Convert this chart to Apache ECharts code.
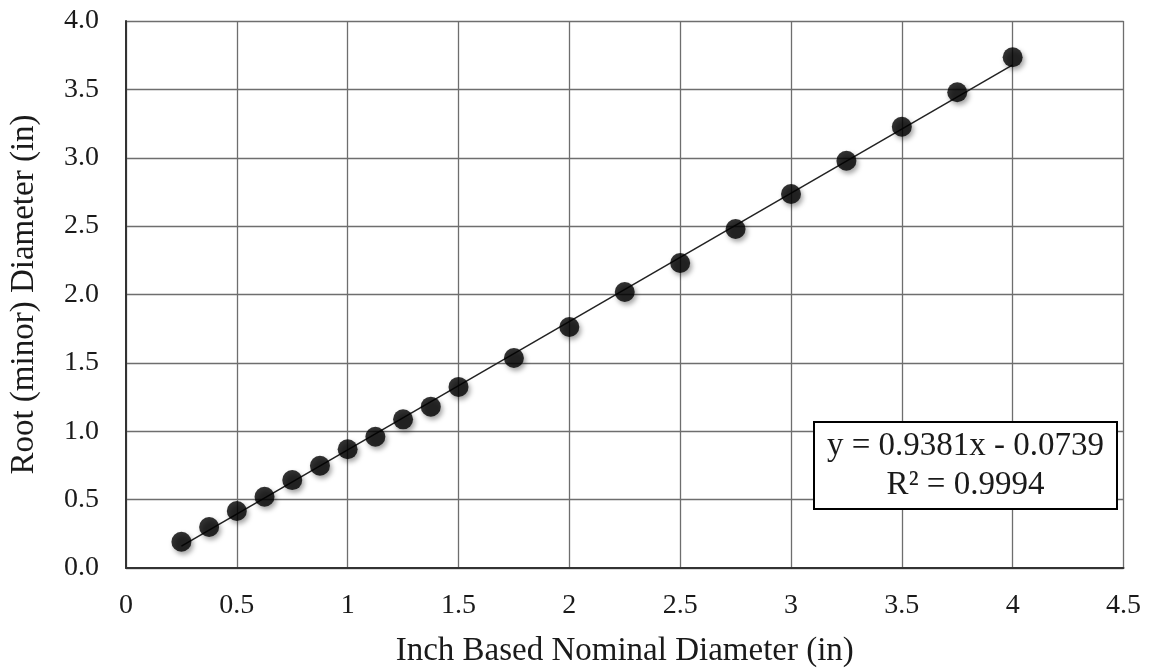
<!DOCTYPE html>
<html>
<head>
<meta charset="utf-8">
<script src="https://cdn.jsdelivr.net/npm/echarts@6/dist/echarts.min.js"></script>
<style>html,body{margin:0;padding:0;background:#fff;}#c{width:1150px;height:669px;}</style>
</head>
<body>
<div id="c"></div>
<script>
const nominalDiameter = [0.25, 0.375, 0.5, 0.625, 0.75, 0.875, 1.0, 1.125, 1.25, 1.375, 1.5, 1.75, 2.0, 2.25, 2.5, 2.75, 3.0, 3.25, 3.5, 3.75, 4.0];
const rootDiameter = [0.192, 0.300, 0.417, 0.521, 0.643, 0.748, 0.868, 0.960, 1.087, 1.180, 1.324, 1.536, 1.762, 2.018, 2.230, 2.479, 2.735, 2.978, 3.227, 3.479, 3.735];
const trendSlope = 0.9381;
const trendIntercept = -0.0739;
const trendRange = [0.25, 4.0];
const equationLines = ['y = 0.9381x - 0.0739', 'R² = 0.9994'];

const font = '"Liberation Serif", "Times New Roman", serif';
const chart = echarts.init(document.getElementById('c'));
const pts = nominalDiameter.map((x, i) => [x, rootDiameter[i]]);
const trend = trendRange.map(x => [x, trendSlope * x + trendIntercept]);

chart.setOption({
  animation: false,
  backgroundColor: '#fff',
  grid: { left: 126, right: 26.5, top: 21, bottom: 101, show: false, outerBoundsMode: 'none', containLabel: false },
  xAxis: {
    type: 'value', min: 0, max: 4.5, interval: 0.5,
    name: 'Inch Based Nominal Diameter (in)', nameLocation: 'middle', nameGap: 67,
    nameTextStyle: { fontFamily: font, fontSize: 33, color: '#1a1a1a' },
    axisLine: { show: true, onZero: false, lineStyle: { color: '#333', width: 2 } },
    axisTick: { show: false },
    axisLabel: { fontFamily: font, fontSize: 28, color: '#1a1a1a', margin: 24, formatter: v => String(v) },
    splitLine: { show: true, lineStyle: { color: '#6e6e6e', width: 1.3 } }
  },
  yAxis: {
    type: 'value', min: 0, max: 4.0, interval: 0.5,
    name: 'Root (minor) Diameter (in)', nameLocation: 'middle', nameGap: 85,
    nameTextStyle: { fontFamily: font, fontSize: 33, color: '#1a1a1a' },
    axisLine: { show: true, lineStyle: { color: '#333', width: 2 } },
    axisTick: { show: false },
    axisLabel: { fontFamily: font, fontSize: 28, color: '#1a1a1a', margin: 27, formatter: v => v.toFixed(1) },
    splitLine: { show: true, lineStyle: { color: '#6e6e6e', width: 1.3 } }
  },
  series: [
    {
      type: 'line', data: trend, symbol: 'none', silent: true,
      lineStyle: { color: '#222', width: 1.5 }, z: 2
    },
    {
      type: 'scatter', data: pts, symbol: 'circle', symbolSize: 20,
      itemStyle: { color: '#000', shadowBlur: 5, shadowOffsetX: 2, shadowOffsetY: 3, shadowColor: 'rgba(0,0,0,0.45)' },
      z: 3
    }
  ],
  graphic: [
    {
      type: 'rect', x: 814, y: 422, z: 10,
      shape: { width: 303, height: 87 },
      style: { fill: '#fff', stroke: '#000', lineWidth: 2 }
    },
    {
      type: 'text', x: 965.5, y: 446.5, z: 11,
      style: { text: equationLines[0], font: '33px ' + font, fill: '#1a1a1a', align: 'center', verticalAlign: 'middle' }
    },
    {
      type: 'text', x: 965.5, y: 485, z: 11,
      style: { text: equationLines[1], font: '33px ' + font, fill: '#1a1a1a', align: 'center', verticalAlign: 'middle' }
    }
  ]
});
</script>
</body>
</html>
